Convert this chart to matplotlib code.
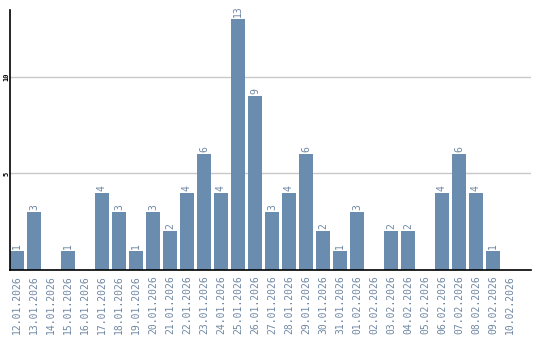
import matplotlib
matplotlib.use("Agg")
import matplotlib.pyplot as plt

dates = ["12.01.2026", "13.01.2026", "14.01.2026", "15.01.2026", "16.01.2026",
         "17.01.2026", "18.01.2026", "19.01.2026", "20.01.2026", "21.01.2026",
         "22.01.2026", "23.01.2026", "24.01.2026", "25.01.2026", "26.01.2026",
         "27.01.2026", "28.01.2026", "29.01.2026", "30.01.2026", "31.01.2026",
         "01.02.2026", "02.02.2026", "03.02.2026", "04.02.2026", "05.02.2026",
         "06.02.2026", "07.02.2026", "08.02.2026", "09.02.2026", "10.02.2026"]
counts = [1, 3, 0, 1, 0, 4, 3, 1, 3, 2, 4, 6, 4, 13, 9,
          3, 4, 6, 2, 1, 3, 0, 2, 2, 0, 4, 6, 4, 1, 0]
y_ticks = [5, 10]

bar_color = "#6a8caf"
label_color = "#6f87a3"

fig = plt.figure(figsize=(5.4, 3.4), dpi=100)
ax = fig.add_axes([10 / 540, 70 / 340, 521 / 540, 260 / 340])

x = list(range(len(dates)))
ax.bar(x, counts, width=0.82, color=bar_color, zorder=2)

for xi, v in zip(x, counts):
    if v > 0:
        ax.text(xi, v + 0.1, str(v), rotation=90, ha="center", va="bottom",
                fontsize=7, family="DejaVu Sans Mono", color=label_color)

ax.set_xlim(-0.41, 30.24)
ax.set_ylim(0, 13.47)
ax.set_yticks(y_ticks)
ax.set_yticklabels([str(t) for t in y_ticks], rotation=90, va="center",
                   fontsize=5, family="DejaVu Sans Mono", fontweight="bold")
ax.set_xticks(x)
ax.set_xticklabels(dates, rotation=90, fontsize=7, family="DejaVu Sans Mono",
                   color=label_color)
ax.tick_params(axis="both", length=0)
ax.tick_params(axis="x", pad=4)
ax.tick_params(axis="y", pad=0.5)
ax.yaxis.grid(True, color="#c8c8c8", linewidth=1, zorder=0)
ax.set_axisbelow(True)

for side in ["top", "right"]:
    ax.spines[side].set_visible(False)
ax.spines["left"].set_linewidth(1.2)
ax.spines["bottom"].set_linewidth(1.2)

fig.savefig("out.png", dpi=100)
